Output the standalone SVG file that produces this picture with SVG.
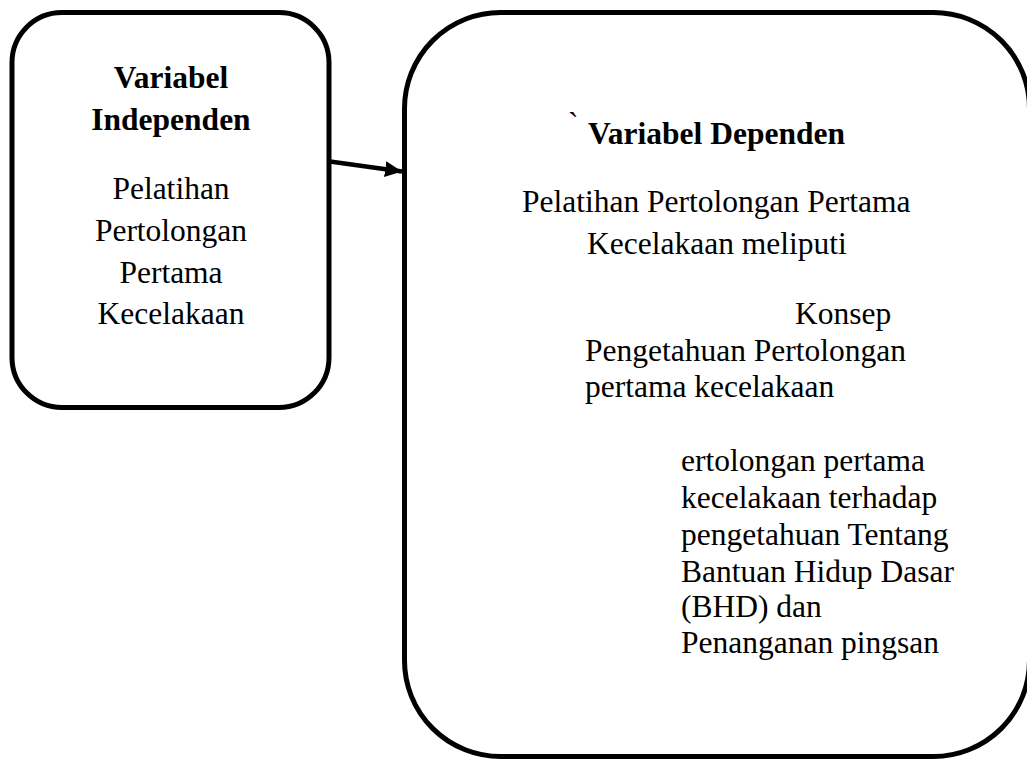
<svg xmlns="http://www.w3.org/2000/svg" width="1027" height="760" viewBox="0 0 1027 760">
<style>
.box{fill:#fff;stroke:#000;stroke-width:5}
.t{font-family:"Liberation Serif","Times New Roman",serif;font-size:31.5px;fill:#000}
.b{font-weight:bold}
.c{text-anchor:middle}
.conn{stroke:#000;stroke-width:4.5;fill:none}
</style>
<defs>
<marker id="ah" markerUnits="userSpaceOnUse" markerWidth="18" markerHeight="16" refX="17" refY="8" orient="auto">
<path d="M0,0 L17,8 L0,16 Z" fill="#000"/>
</marker>
</defs>
<rect width="1027" height="760" fill="#fff"/>
<g id="node-independen">
<rect class="box" x="12" y="12.5" width="317" height="395" rx="50" ry="50"/>
<text class="t b c" x="171" y="88">Variabel</text>
<text class="t b c" x="171" y="130">Independen</text>
<text class="t c" x="171" y="199">Pelatihan</text>
<text class="t c" x="171" y="241">Pertolongan</text>
<text class="t c" x="171" y="283">Pertama</text>
<text class="t c" x="171" y="324">Kecelakaan</text>
</g>
<g id="node-dependen">
<rect class="box" x="404.5" y="12.5" width="625" height="744" rx="96" ry="96"/>
<text class="t" x="568" y="134">`</text>
<text class="t b" x="588" y="144">Variabel Dependen</text>
<text class="t" x="522" y="212">Pelatihan Pertolongan Pertama</text>
<text class="t" x="587" y="254">Kecelakaan meliputi</text>
<text class="t" x="795" y="324">Konsep</text>
<text class="t" x="585" y="361">Pengetahuan Pertolongan</text>
<text class="t" x="585" y="397">pertama kecelakaan</text>
<text class="t" x="681" y="471">ertolongan pertama</text>
<text class="t" x="681" y="508">kecelakaan terhadap</text>
<text class="t" x="681" y="545">pengetahuan Tentang</text>
<text class="t" x="681" y="582">Bantuan Hidup Dasar</text>
<text class="t" x="681" y="617">(BHD) dan</text>
<text class="t" x="681" y="653">Penanganan pingsan</text>
</g>
<g id="connectors">
<line class="conn" x1="330" y1="161.5" x2="402" y2="171.5" marker-end="url(#ah)"/>
</g>
</svg>
